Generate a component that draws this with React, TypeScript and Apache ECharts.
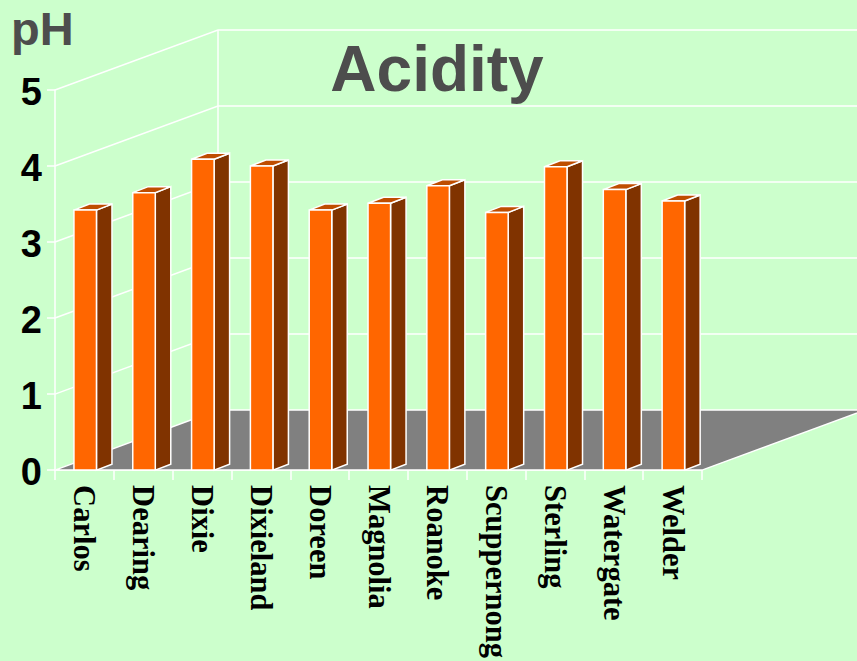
import React, { useEffect, useRef } from "react";
import * as echarts from "echarts";

const categories = ["Carlos", "Dearing", "Dixie", "Dixieland", "Doreen", "Magnolia", "Roanoke", "Scuppernong", "Sterling", "Watergate", "Welder"];
const acidity = [3.42, 3.65, 4.09, 4.0, 3.42, 3.51, 3.74, 3.39, 3.99, 3.69, 3.54];
const yTicks = [0, 1, 2, 3, 4, 5];

const BG = "#CCFFCC";
const WHITE = "#FFFFFF";
const WALL_DX = 163;
const WALL_DY = -60;
const BAR_DX = 15.5;
const BAR_DY = -6;
const BAR_LEFT = 0.322;
const BAR_RIGHT = 0.705;

function renderWall(params: any, api: any) {
  const band = api.size([1, 0])[0];
  const v = api.value(1);
  const first = api.coord([0, v]);
  const last = api.coord([categories.length - 1, v]);
  const x0 = first[0] - band / 2;
  const x1 = last[0] + band / 2;
  const y = first[1];
  const stroke = { stroke: WHITE, lineWidth: 1.5, fill: "none" };
  const children: any[] = [];
  if (v === 0) {
    children.push({
      type: "polygon",
      shape: { points: [[x0, y], [x0 + WALL_DX, y + WALL_DY], [x1 + WALL_DX, y + WALL_DY], [x1, y]] },
      style: { fill: "#808080", stroke: WHITE, lineWidth: 1.5 },
    });
  } else {
    children.push({
      type: "polyline",
      shape: { points: [[x0, y], [x0 + WALL_DX, y + WALL_DY], [x1 + WALL_DX, y + WALL_DY]] },
      style: stroke,
    });
  }
  if (v === yTicks[yTicks.length - 1]) {
    const base = api.coord([0, 0])[1];
    children.push({
      type: "line",
      shape: { x1: x0 + WALL_DX, y1: y + WALL_DY, x2: x0 + WALL_DX, y2: base + WALL_DY },
      style: stroke,
    });
  }
  return { type: "group", children };
}

function renderBar(params: any, api: any) {
  const band = api.size([1, 0])[0];
  const top = api.coord([api.value(0), api.value(1)]);
  const base = api.coord([api.value(0), 0]);
  const l = top[0] - band / 2 + band * BAR_LEFT;
  const r = top[0] - band / 2 + band * BAR_RIGHT;
  const t = top[1];
  const b = base[1];
  const edge = { stroke: WHITE, lineWidth: 1.5, lineJoin: "miter" };
  return {
    type: "group",
    children: [
      {
        type: "polygon",
        shape: { points: [[r, t], [r + BAR_DX, t + BAR_DY], [r + BAR_DX, b + BAR_DY], [r, b]] },
        style: { fill: "#803300", ...edge },
      },
      {
        type: "polygon",
        shape: { points: [[l, t], [l + BAR_DX, t + BAR_DY], [r + BAR_DX, t + BAR_DY], [r, t]] },
        style: { fill: "#BF4D00", ...edge },
      },
      {
        type: "rect",
        shape: { x: l, y: t, width: r - l, height: b - t },
        style: { fill: "#FF6600", ...edge },
      },
    ],
  };
}

export default function App() {
  const ref = useRef<HTMLDivElement>(null);
  useEffect(() => {
    document.body.style.margin = "0";
    const chart = echarts.init(ref.current!, null, { renderer: "svg" });
    chart.setOption({
      animation: false,
      backgroundColor: BG,
      title: [
        {
          text: "Acidity",
          left: 437,
          top: 32,
          textAlign: "center",
          textStyle: { fontFamily: "Liberation Sans", fontWeight: "bold", fontSize: 64, color: "#4D4D4D", align: "center" },
          padding: [5, 10, 5, 0],
        },
        {
          text: "pH",
          left: 11,
          top: 5,
          padding: 0,
          textStyle: { fontFamily: "Liberation Sans", fontWeight: "bold", fontSize: 47, color: "#4D4D4D" },
        },
      ],
      grid: { left: 55, right: 155, top: 90, bottom: 190, containLabel: false },
      xAxis: {
        type: "category",
        data: categories,
        boundaryGap: true,
        axisLine: { show: true, lineStyle: { color: WHITE, width: 1.5 } },
        axisTick: { show: true, length: 10, alignWithLabel: false, lineStyle: { color: WHITE, width: 1.5 } },
        axisLabel: {
          interval: 0,
          rotate: -90,
          margin: 15,
          color: "#000000",
          fontFamily: "Liberation Serif",
          fontWeight: "bold",
          fontSize: 30.5,
        },
        splitLine: { show: false },
      },
      yAxis: {
        type: "value",
        min: 0,
        max: 5,
        interval: 1,
        axisLine: { show: true, lineStyle: { color: WHITE, width: 1.5 } },
        axisTick: { show: true, length: 8, lineStyle: { color: WHITE, width: 1.5 } },
        axisLabel: {
          margin: 13,
          verticalAlign: "top",
          lineHeight: 4,
          color: "#000000",
          fontFamily: "Liberation Sans",
          fontWeight: "bold",
          fontSize: 38,
        },
        splitLine: { show: false },
      },
      series: [
        {
          type: "custom",
          name: "Walls",
          clip: false,
          z: 1,
          silent: true,
          data: yTicks.map((v) => [0, v]),
          encode: { x: 0, y: 1 },
          renderItem: renderWall,
        },
        {
          type: "custom",
          name: "pH",
          clip: false,
          z: 3,
          data: acidity.map((v, i) => [i, v]),
          encode: { x: 0, y: 1 },
          renderItem: renderBar,
        },
      ],
    });
    return () => chart.dispose();
  }, []);
  return <div ref={ref} style={{ width: 857, height: 661 }} />;
}
